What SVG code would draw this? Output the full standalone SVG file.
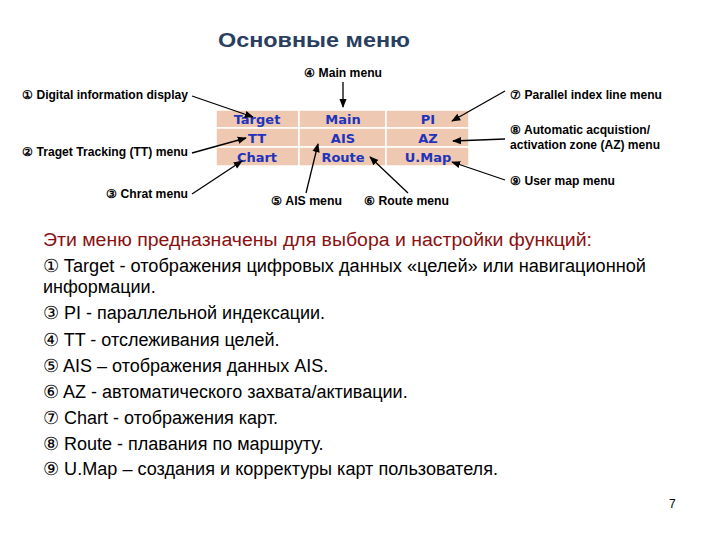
<svg xmlns="http://www.w3.org/2000/svg" width="720" height="540" viewBox="0 0 720 540">
<style>
.lb{font-family:"Liberation Sans",Arial,sans-serif;font-size:12px;font-weight:bold;fill:#000}
.cell{fill:#EEC8B0;stroke:#fff;stroke-width:1.5}
.ct{font-family:Verdana,"DejaVu Sans",sans-serif;font-size:13px;font-weight:bold;fill:#2233BB;text-anchor:middle}
.bt{font-family:"Liberation Sans",Arial,sans-serif;font-size:18px;fill:#000}
.ar{stroke:#000;stroke-width:1.3;fill:none;marker-end:url(#m)}
</style>
<defs><marker id="m" viewBox="0 0 10 10" refX="9" refY="5" markerWidth="7" markerHeight="7" orient="auto"><path d="M0,1 L10,5 L0,9z" fill="#000"/></marker></defs>
<text x="218" y="47" textLength="192" lengthAdjust="spacingAndGlyphs" font-family="Liberation Sans,Arial,sans-serif" font-size="20" font-weight="bold" fill="#2A3F5F">Основные меню</text>
<g id="table">
<rect class="cell" x="216" y="110" width="83" height="18"/><rect class="cell" x="299" y="110" width="87" height="18"/><rect class="cell" x="386" y="110" width="83" height="18"/>
<rect class="cell" x="216" y="128" width="83" height="19"/><rect class="cell" x="299" y="128" width="87" height="19"/><rect class="cell" x="386" y="128" width="83" height="19"/>
<rect class="cell" x="216" y="147" width="83" height="19"/><rect class="cell" x="299" y="147" width="87" height="19"/><rect class="cell" x="386" y="147" width="83" height="19"/>
<text class="ct" x="257" y="124">Target</text><text class="ct" x="343" y="124">Main</text><text class="ct" x="428" y="124">PI</text>
<text class="ct" x="257" y="143">TT</text><text class="ct" x="343" y="143">AIS</text><text class="ct" x="428" y="143">AZ</text>
<text class="ct" x="257" y="162">Chart</text><text class="ct" x="343" y="162">Route</text><text class="ct" x="428" y="162">U.Map</text>
</g>
<g id="labels">
<text class="lb" x="22" y="99" textLength="166" lengthAdjust="spacingAndGlyphs">① Digital information display</text>
<text class="lb" x="22" y="156" textLength="166" lengthAdjust="spacingAndGlyphs">② Traget Tracking (TT) menu</text>
<text class="lb" x="106" y="198" textLength="82" lengthAdjust="spacingAndGlyphs">③ Chrat menu</text>
<text class="lb" x="304" y="77" textLength="78" lengthAdjust="spacingAndGlyphs">④ Main menu</text>
<text class="lb" x="271" y="205" textLength="71" lengthAdjust="spacingAndGlyphs">⑤ AIS menu</text>
<text class="lb" x="364" y="205" textLength="85" lengthAdjust="spacingAndGlyphs">⑥ Route menu</text>
<text class="lb" x="510" y="99" textLength="152" lengthAdjust="spacingAndGlyphs">⑦ Parallel index line menu</text>
<text class="lb" x="510" y="134" textLength="140" lengthAdjust="spacingAndGlyphs">⑧ Automatic acquistion/</text>
<text class="lb" x="510" y="149" textLength="150" lengthAdjust="spacingAndGlyphs">activation zone (AZ) menu</text>
<text class="lb" x="510" y="185" textLength="105" lengthAdjust="spacingAndGlyphs">⑨ User map menu</text>
</g>
<g id="connectors">
<path class="ar" d="M192,96 L253,117"/>
<path class="ar" d="M343,82 L343,107"/>
<path class="ar" d="M192,153 L246,138"/>
<path class="ar" d="M192,194 L242,161"/>
<path class="ar" d="M306,193 L318,144"/>
<path class="ar" d="M408,193 L370,157"/>
<path class="ar" d="M505,91 L452,121"/>
<path class="ar" d="M505,139 L453,141"/>
<path class="ar" d="M505,180 L452,162"/>
</g>
<g id="body">
<text class="bt" x="43" y="246" style="fill:#8B1010" font-size="16" textLength="549" lengthAdjust="spacingAndGlyphs">Эти меню предназначены для выбора и настройки функций:</text>
<text class="bt" x="43" y="272" textLength="603" lengthAdjust="spacingAndGlyphs">① Target - отображения цифровых данных «целей» или навигационной</text>
<text class="bt" x="43" y="293">информации.</text>
<text class="bt" x="43" y="319">③ PI - параллельной индексации.</text>
<text class="bt" x="43" y="346">④ TT - отслеживания целей.</text>
<text class="bt" x="43" y="372">⑤ AIS – отображения данных AIS.</text>
<text class="bt" x="43" y="398">⑥ AZ - автоматического захвата/активации.</text>
<text class="bt" x="43" y="424">⑦ Chart - отображения карт.</text>
<text class="bt" x="43" y="450">⑧ Route - плавания по маршруту.</text>
<text class="bt" x="43" y="475" textLength="455" lengthAdjust="spacingAndGlyphs">⑨ U.Map – создания и корректуры карт пользователя.</text>
<text x="669" y="508" font-family="Liberation Sans,Arial,sans-serif" font-size="12">7</text>
</g>
</svg>
